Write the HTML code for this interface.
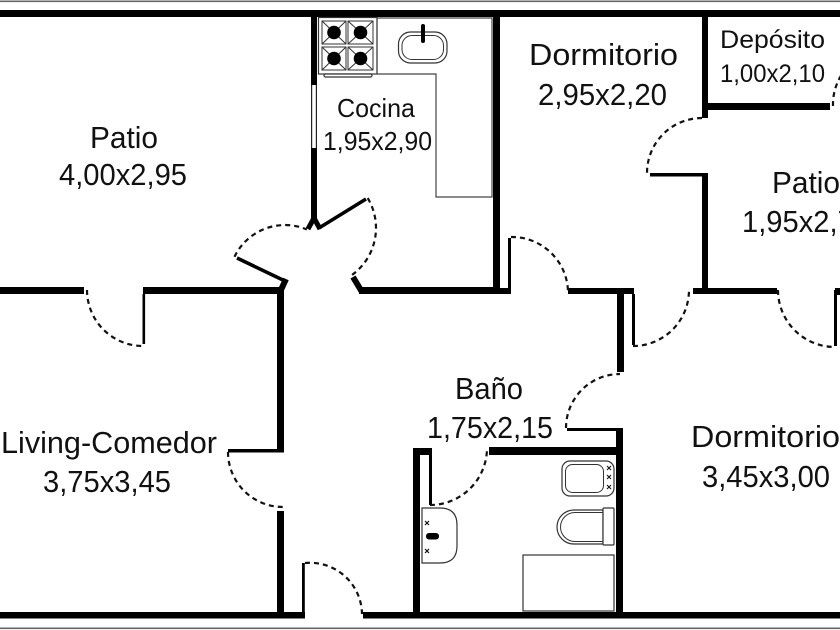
<!DOCTYPE html>
<html>
<head>
<meta charset="utf-8">
<style>
html,body{margin:0;padding:0;background:#fff;}
svg{display:block;}
.t{font-family:"Liberation Sans",sans-serif;fill:#111;}
.d{fill:none;stroke:#111;stroke-width:2.2;stroke-dasharray:5 4;}
.f{fill:#fff;stroke:#333;stroke-width:1.2;}
</style>
</head>
<body>
<svg width="840" height="630" viewBox="0 0 840 630" xmlns="http://www.w3.org/2000/svg">
<rect x="0" y="0" width="840" height="630" fill="#fff"/>
<rect x="0" y="0.5" width="840" height="1.6" fill="#666"/>
<rect x="0" y="627.5" width="840" height="1.6" fill="#666"/>

<g fill="#000">
<rect x="0" y="10" width="840" height="7"/>
<rect x="0" y="612" width="305" height="6.5"/>
<rect x="363" y="612" width="477" height="6.5"/>

<rect x="0" y="287" width="84" height="7"/>
<rect x="143" y="287" width="141" height="7"/>
<rect x="142.5" y="294" width="2.6" height="50"/>

<rect x="277" y="287" width="7" height="165"/>
<rect x="228" y="449" width="56" height="3.5"/>
<rect x="277" y="511" width="7" height="101"/>
<rect x="302" y="563" width="2.8" height="50"/>

<rect x="311" y="17" width="6" height="68"/>
<rect x="311" y="148" width="6" height="72"/>
<rect x="493" y="17" width="7" height="277"/>
<rect x="359" y="287" width="141" height="7"/>

<rect x="508" y="238" width="3" height="56"/>
<rect x="493" y="288" width="18" height="6"/>

<rect x="568" y="288" width="66" height="6"/>
<rect x="617" y="288" width="7" height="84"/>
<rect x="632" y="294" width="3" height="51"/>
<rect x="693" y="288" width="84" height="6"/>
<rect x="702" y="173" width="6" height="121"/>
<rect x="650" y="173" width="58" height="3.5"/>
<rect x="702" y="17" width="6" height="101"/>
<rect x="708" y="103" width="122" height="7"/>
<rect x="834" y="290" width="3" height="56"/>
<rect x="835" y="288" width="5" height="7"/>

<rect x="616" y="428" width="7" height="184"/>
<rect x="567" y="428" width="56" height="3"/>
<rect x="489" y="447" width="134" height="8"/>
<rect x="413" y="448" width="7" height="164"/>
<rect x="413" y="448" width="17" height="7"/>
<rect x="429" y="448" width="3" height="57"/>
</g>

<rect x="311" y="85" width="6" height="63" fill="#fff"/>
<line x1="311.6" y1="85" x2="311.6" y2="148" stroke="#222" stroke-width="1.2"/>
<line x1="316.4" y1="85" x2="316.4" y2="148" stroke="#222" stroke-width="1.2"/>

<g stroke="#000" fill="none" stroke-linecap="butt">
<line x1="314" y1="218" x2="308" y2="229" stroke-width="5"/>
<line x1="314" y1="218" x2="320" y2="229" stroke-width="5"/>
<line x1="319" y1="228" x2="366" y2="199" stroke-width="3.5"/>
<line x1="353" y1="277" x2="362" y2="292" stroke-width="6"/>
<line x1="285" y1="281" x2="237" y2="258" stroke-width="3.5"/>
<line x1="280" y1="292" x2="286" y2="279" stroke-width="6"/>
</g>

<path class="d" d="M87,290 A56,56 0 0 0 143,346"/>
<path class="d" d="M228,452 A55,55 0 0 0 283,507"/>
<path class="d" d="M305,563 A52,52 0 0 1 362,614"/>
<path class="d" d="M234.5,256.8 A56,56 0 0 1 306.9,229.5"/>
<path class="d" d="M367.7,198.1 A58,58 0 0 1 352.1,274.9"/>
<path class="d" d="M511,237 A56,56 0 0 1 568,292"/>
<path class="d" d="M633,346 A56,56 0 0 0 689,290"/>
<path class="d" d="M702,118 A55,55 0 0 0 647,173"/>
<path class="d" d="M833,106 A55,55 0 0 1 845,70"/>
<path class="d" d="M778,290 A57,57 0 0 0 835,347"/>
<path class="d" d="M566,428 A54,54 0 0 1 620,374"/>
<path class="d" d="M430,505 A57,57 0 0 0 487,448"/>

<rect x="318.5" y="17.5" width="58.5" height="56.5" class="f"/>
<g stroke="#333" stroke-width="1" fill="#fff">
<rect x="322" y="21" width="24" height="23"/>
<rect x="348" y="21" width="25" height="23"/>
<rect x="322" y="47" width="24" height="23"/>
<rect x="348" y="47" width="25" height="23"/>
</g>
<g stroke="#333" stroke-width="1">
<line x1="322" y1="21" x2="346" y2="44"/><line x1="346" y1="21" x2="322" y2="44"/>
<line x1="348" y1="21" x2="373" y2="44"/><line x1="373" y1="21" x2="348" y2="44"/>
<line x1="322" y1="47" x2="346" y2="70"/><line x1="346" y1="47" x2="322" y2="70"/>
<line x1="348" y1="47" x2="373" y2="70"/><line x1="373" y1="47" x2="348" y2="70"/>
</g>
<g fill="#000">
<circle cx="334" cy="32.5" r="6.8"/>
<circle cx="360.5" cy="32.5" r="6.8"/>
<circle cx="334" cy="58.5" r="6.8"/>
<circle cx="360.5" cy="58.5" r="6.8"/>
</g>
<rect x="324" y="74" width="48" height="3" rx="1.5" class="f"/>
<polygon points="377,18 492,18 492,197 436,197 436,74 377,74" fill="none" stroke="#444" stroke-width="1.2"/>
<rect x="398.5" y="32" width="48.5" height="31" rx="12" class="f"/>
<rect x="402" y="35.5" width="41.5" height="24" rx="10" fill="none" stroke="#333" stroke-width="1"/>
<rect x="421" y="24" width="4" height="19" rx="2" fill="#000"/>

<rect x="562" y="461" width="52" height="35" rx="8" class="f"/>
<rect x="565.5" y="464.5" width="38" height="28" rx="7" fill="none" stroke="#333" stroke-width="1"/>
<g stroke="#111" stroke-width="1.1">
<line x1="607" y1="466" x2="611" y2="470"/><line x1="611" y1="466" x2="607" y2="470"/>
<line x1="607" y1="475" x2="611" y2="479"/><line x1="611" y1="475" x2="607" y2="479"/>
<line x1="607" y1="485" x2="611" y2="489"/><line x1="611" y1="485" x2="607" y2="489"/>
</g>
<path d="M603,510 H574 A17,17 0 0 0 574,544 H603 Z" class="f"/>
<path d="M603,512.5 H575 A14.5,14.5 0 0 0 575,541.5 H603" fill="none" stroke="#333" stroke-width="1"/>
<rect x="603" y="508" width="11" height="37" rx="1" class="f"/>
<rect x="523" y="555" width="91" height="56" class="f"/>
<path d="M422,508 H440 Q457,508 457,525 V546 Q457,563 440,563 H422 Z" class="f"/>
<g stroke="#111" stroke-width="1.2">
<line x1="425" y1="521" x2="429" y2="525"/><line x1="429" y1="521" x2="425" y2="525"/>
<line x1="425" y1="549" x2="429" y2="553"/><line x1="429" y1="549" x2="425" y2="553"/>
</g>
<rect x="426" y="533" width="13" height="6.5" rx="3" fill="#000"/>

<text class="t" x="90" y="148" font-size="31" textLength="68" lengthAdjust="spacingAndGlyphs">Patio</text>
<text class="t" x="59" y="185" font-size="31" textLength="128" lengthAdjust="spacingAndGlyphs">4,00x2,95</text>
<text class="t" x="337" y="117" font-size="26" textLength="78" lengthAdjust="spacingAndGlyphs">Cocina</text>
<text class="t" x="323" y="150" font-size="26" textLength="109" lengthAdjust="spacingAndGlyphs">1,95x2,90</text>
<text class="t" x="529" y="65" font-size="31" textLength="149" lengthAdjust="spacingAndGlyphs">Dormitorio</text>
<text class="t" x="538" y="105" font-size="31" textLength="129" lengthAdjust="spacingAndGlyphs">2,95x2,20</text>
<text class="t" x="720" y="48" font-size="25" textLength="105" lengthAdjust="spacingAndGlyphs">Depósito</text>
<text class="t" x="720" y="82" font-size="25" textLength="105" lengthAdjust="spacingAndGlyphs">1,00x2,10</text>
<text class="t" x="772" y="193" font-size="31" textLength="68" lengthAdjust="spacingAndGlyphs">Patio</text>
<text class="t" x="742" y="232" font-size="31" textLength="128" lengthAdjust="spacingAndGlyphs">1,95x2,70</text>
<text class="t" x="455" y="399" font-size="31" textLength="68" lengthAdjust="spacingAndGlyphs">Baño</text>
<text class="t" x="427" y="438" font-size="31" textLength="126" lengthAdjust="spacingAndGlyphs">1,75x2,15</text>
<text class="t" x="1" y="453" font-size="31" textLength="216" lengthAdjust="spacingAndGlyphs">Living-Comedor</text>
<text class="t" x="43" y="492" font-size="31" textLength="128" lengthAdjust="spacingAndGlyphs">3,75x3,45</text>
<text class="t" x="691" y="447" font-size="31" textLength="149" lengthAdjust="spacingAndGlyphs">Dormitorio</text>
<text class="t" x="702" y="487" font-size="31" textLength="128" lengthAdjust="spacingAndGlyphs">3,45x3,00</text>
</svg>
</body>
</html>
